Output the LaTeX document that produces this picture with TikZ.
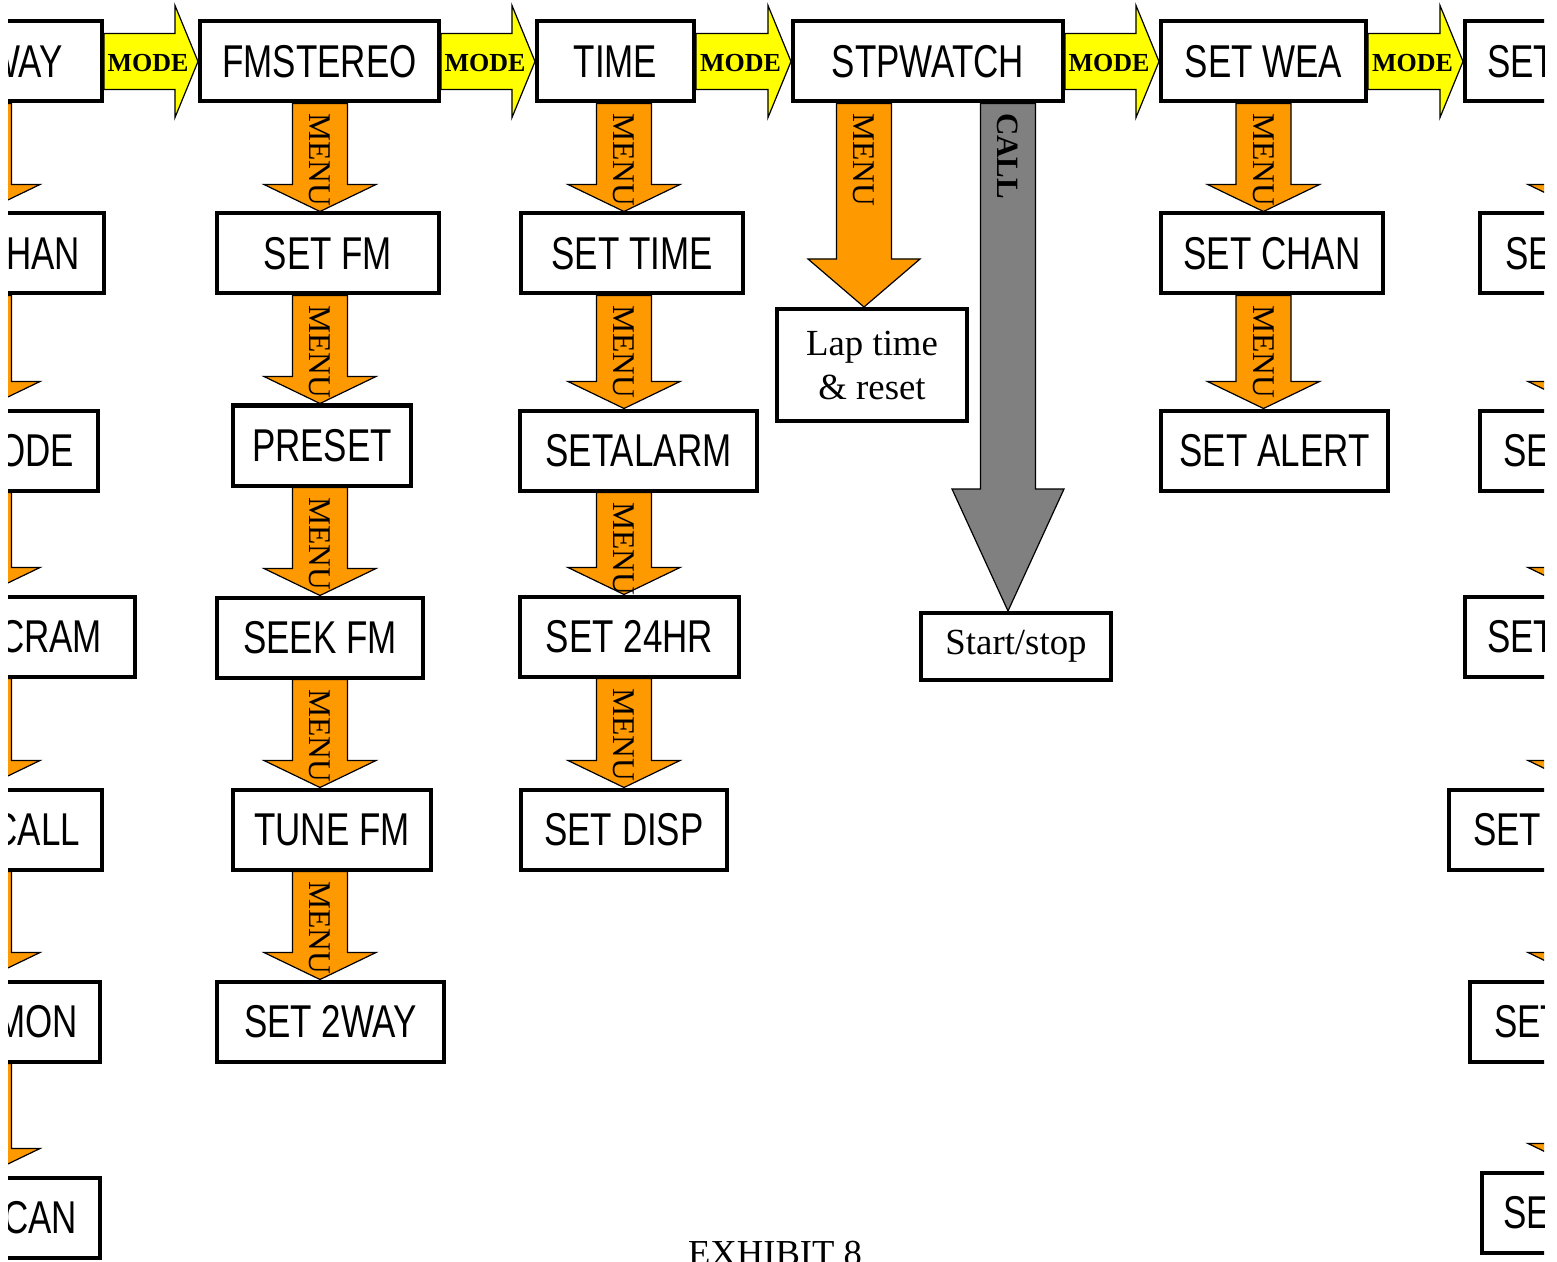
\documentclass[tikz,border=0pt]{standalone}
\usepackage{fontspec}
\setmainfont{Liberation Serif}
\newfontfamily\boxfont[FakeStretch=0.76]{Liberation Sans}
\usetikzlibrary{calc}

\definecolor{modeyellow}{RGB}{255,255,0}
\definecolor{menuorange}{RGB}{255,153,0}
\definecolor{callgray}{RGB}{128,128,128}

% fat yellow arrow from one screen to the next one on the top row
\newcommand\modearrow[2]{%
  \path[modearr] let \p1=(#1.east), \p2=(#2.west) in
    (\x1,\y1+14pt) -- (\x2-11.5pt,\y1+14pt) -- (\x2-11.5pt,\y1+28pt) -- (\x2,\y1)
    -- (\x2-11.5pt,\y1-28pt) -- (\x2-11.5pt,\y1-14pt) -- (\x1,\y1-14pt) -- cycle
    ({(\x1+\x2)/2-1.5pt},{\y1-1pt}) node[modetext] (#1to#2) {MODE};
}
% fat arrow down a column: style, column, from, to, head length, label
\newcommand\menuarrow[6]{%
  \path[#1] let \p1=(#3.south -| #2), \p2=(#4.north -| #2) in
    (\x1-13.75pt,\y1) -- (\x1+13.75pt,\y1) -- (\x1+13.75pt,\y2+#5) -- (\x1+28pt,\y2+#5)
    -- (\x1,\y2) -- (\x1-28pt,\y2+#5) -- (\x1-13.75pt,\y2+#5) -- cycle
    (\x1,{\y1-4.5pt}) node[#1 text] (#3to#4) {#6};
}

\begin{document}
\begin{tikzpicture}[x=0.5pt, y=-0.5pt,
    screen/.style={draw, fill=white, line width=2pt, inner sep=0pt, minimum height=40pt,
      font=\boxfont\fontsize{23}{26}\selectfont},
    cutleft/.style={screen, anchor=east, text width=80pt, align=right},
    cutright/.style={screen, anchor=west, text width=80pt, align=left},
    plain/.style={draw, fill=white, line width=2pt, inner sep=0pt, align=center,
      font=\fontsize{18.4}{22}\selectfont},
    modearr/.style={fill=modeyellow, draw=black, line width=0.6pt},
    modetext/.style={inner sep=0pt, font=\bfseries\fontsize{13}{13}\selectfont},
    menuarr/.style={fill=menuorange, draw=black, line width=0.6pt},
    menuarr text/.style={rotate=-90, anchor=west, inner sep=0pt, font=\fontsize{15.8}{16}\selectfont},
    callarr/.style={fill=callgray, draw=black, line width=0.6pt},
    callarr text/.style={rotate=-90, anchor=west, inner sep=0pt, font=\bfseries\fontsize{15.5}{16}\selectfont}]

\useasboundingbox (0,0) rectangle (1557,1262);
\begin{scope}
\clip (8,-20) rectangle (1544,1262);

% columns of the down arrows
\coordinate (xL) at (-16,0);
\coordinate (xF) at (320,0);
\coordinate (xT) at (624,0);
\coordinate (xS) at (864,0);
\coordinate (xC) at (1008,0);
\coordinate (xW) at (1263.5,0);
\coordinate (xR) at (1584,0);

% left column, cut by the page edge
\node (way)  [cutleft, inner xsep=19.5pt] at (104,61.5) {WAY};
\node (han)  [cutleft, inner xsep=12pt] at (106,253.5) {HAN};
\node (ode)  [cutleft, inner xsep=12pt] at (100,450.5) {ODE};
\node (cram) [cutleft, inner xsep=16.5pt] at (137,636.5) {CRAM};
\node (call) [cutleft, inner xsep=11pt] at (104,829.5) {CALL};
\node (mon)  [cutleft, inner xsep=11pt] at (102,1021.5) {MON};
\node (can)  [cutleft, inner xsep=11.5pt] at (102,1217.5) {CAN};

% FM stereo
\node (fmstereo)  [screen, minimum width=119.5pt] at (319.5,61.5) {FMSTEREO};
\node (setfm)     [screen, minimum width=111pt] at (328,253.5) {SET FM};
\node (preset)    [screen, minimum width=89pt] at (322,445.5) {PRESET};
\node (seekfm)    [screen, minimum width=103pt] at (320,637.5) {SEEK FM};
\node (tunefm)    [screen, minimum width=99pt] at (332,829.5) {TUNE FM};
\node (settwoway) [screen, minimum width=113.5pt] at (330.5,1021.5) {SET 2WAY};

% time
\node (time)     [screen, minimum width=78.5pt] at (615.5,61.5) {TIME};
\node (settime)  [screen, minimum width=111pt] at (632,253.5) {SET TIME};
\node (setalarm) [screen, minimum width=118.5pt] at (638.5,450.5) {SETALARM};
\node (setday)   [screen, minimum width=109.5pt] at (629.5,636.5) {SET 24HR};
\node (setdisp)  [screen, minimum width=103pt] at (624,829.5) {SET DISP};

% stopwatch
\node (stpwatch)  [screen, minimum width=135pt] at (928,61.5) {STPWATCH};
\node (laptime)   [plain, minimum width=95pt, minimum height=56pt] at (872,365) {Lap time\\\& reset};
\node (startstop) [plain, minimum width=95pt, minimum height=33.5pt] at (1016,646.5) {Start/stop};

% weather
\node (setwea)   [screen, minimum width=102.5pt] at (1263.5,61.5) {SET WEA};
\node (setchan)  [screen, minimum width=111pt] at (1272,253.5) {SET CHAN};
\node (setalert) [screen, minimum width=113.5pt] at (1274.5,450.5) {SET ALERT};

% right column, cut by the page edge
\node (rone)   [cutright, inner xsep=11pt] at (1463,61.5) {SET};
\node (rtwo)   [cutright, inner xsep=12.5pt] at (1478,253.5) {SE};
\node (rthree) [cutright, inner xsep=11.5pt] at (1478,450.5) {SE};
\node (rfour)  [cutright, inner xsep=11pt] at (1463,636.5) {SET};
\node (rfive)  [cutright, inner xsep=12pt] at (1447,829.5) {SET};
\node (rsix)   [cutright, inner xsep=12pt] at (1468,1021.5) {SET};
\node (rseven) [cutright, inner xsep=10.5pt] at (1480,1212.5) {SE};

\node (exhibit) [anchor=base, inner sep=0pt, font=\fontsize{18.3}{20}\selectfont] at (775,1265) {EXHIBIT 8};

% MODE steps along the top
\modearrow{way}{fmstereo}
\modearrow{fmstereo}{time}
\modearrow{time}{stpwatch}
\modearrow{stpwatch}{setwea}
\modearrow{setwea}{rone}

% MENU steps down each column
\menuarrow{menuarr}{xL}{way}{han}{13.5pt}{}
\menuarrow{menuarr}{xL}{han}{ode}{13.5pt}{}
\menuarrow{menuarr}{xL}{ode}{cram}{13.5pt}{}
\menuarrow{menuarr}{xL}{cram}{call}{13.5pt}{}
\menuarrow{menuarr}{xL}{call}{mon}{13.5pt}{}
\menuarrow{menuarr}{xL}{mon}{can}{13.5pt}{}

\menuarrow{menuarr}{xF}{fmstereo}{setfm}{13.5pt}{MENU}
\menuarrow{menuarr}{xF}{setfm}{preset}{13.5pt}{MENU}
\menuarrow{menuarr}{xF}{preset}{seekfm}{13.5pt}{MENU}
\menuarrow{menuarr}{xF}{seekfm}{tunefm}{13.5pt}{MENU}
\menuarrow{menuarr}{xF}{tunefm}{settwoway}{13.5pt}{MENU}

\menuarrow{menuarr}{xT}{time}{settime}{13.5pt}{MENU}
\menuarrow{menuarr}{xT}{settime}{setalarm}{13.5pt}{MENU}
\menuarrow{menuarr}{xT}{setalarm}{setday}{13.5pt}{MENU}
\menuarrow{menuarr}{xT}{setday}{setdisp}{13.5pt}{MENU}

\menuarrow{menuarr}{xS}{stpwatch}{laptime}{24pt}{MENU}
\menuarrow{callarr}{xC}{stpwatch}{startstop}{61pt}{CALL}

\menuarrow{menuarr}{xW}{setwea}{setchan}{13.5pt}{MENU}
\menuarrow{menuarr}{xW}{setchan}{setalert}{13.5pt}{MENU}

\menuarrow{menuarr}{xR}{rone}{rtwo}{13.5pt}{}
\menuarrow{menuarr}{xR}{rtwo}{rthree}{13.5pt}{}
\menuarrow{menuarr}{xR}{rthree}{rfour}{13.5pt}{}
\menuarrow{menuarr}{xR}{rfour}{rfive}{13.5pt}{}
\menuarrow{menuarr}{xR}{rfive}{rsix}{13.5pt}{}
\menuarrow{menuarr}{xR}{rsix}{rseven}{13.5pt}{}
\end{scope}
\end{tikzpicture}
\end{document}
